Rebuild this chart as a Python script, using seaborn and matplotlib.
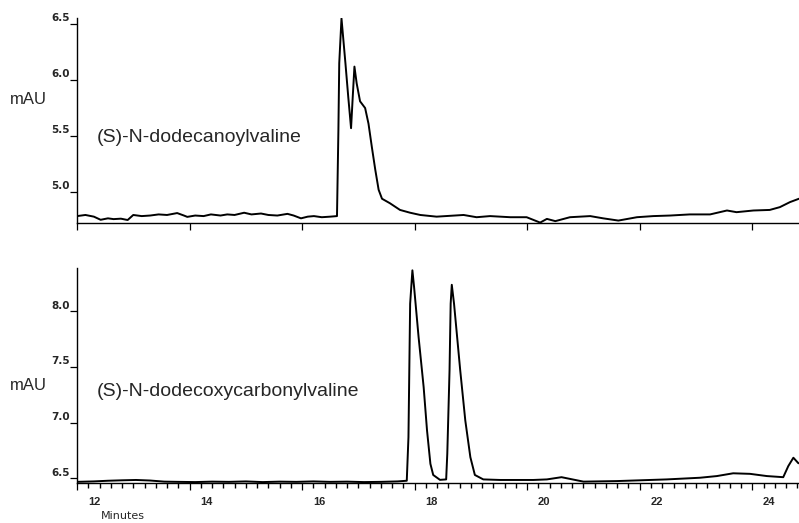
import matplotlib
matplotlib.use("Agg")
import matplotlib.pyplot as plt
import pandas as pd
import seaborn as sns
from matplotlib.transforms import ScaledTranslation
from matplotlib.ticker import MultipleLocator

# ---------------- data ----------------
top_time = [12.00, 12.15, 12.30, 12.42, 12.55, 12.65, 12.78, 12.90,
            13.00, 13.15, 13.30, 13.45, 13.60, 13.78, 13.90, 13.96,
            14.10, 14.25, 14.38, 14.55, 14.67, 14.80, 14.97,
            15.10, 15.27, 15.40, 15.56, 15.74, 15.85, 15.98,
            16.10, 16.21, 16.35, 16.50, 16.62,
            16.645, 16.66, 16.70, 16.77, 16.82, 16.87, 16.90, 16.93, 16.97, 17.03,
            17.12, 17.18, 17.24, 17.30, 17.36, 17.42, 17.56, 17.74, 17.92, 18.10,
            18.39, 18.87, 19.10, 19.34, 19.70, 19.99, 20.23, 20.35, 20.50, 20.76,
            21.12, 21.35, 21.62, 21.95, 22.24, 22.54, 22.89, 23.25, 23.55, 23.72,
            24.02, 24.31, 24.49, 24.67, 24.83]
top_mau = [4.785, 4.795, 4.780, 4.752, 4.765, 4.758, 4.762, 4.750,
           4.795, 4.785, 4.790, 4.800, 4.795, 4.812, 4.790, 4.778,
           4.790, 4.785, 4.800, 4.790, 4.800, 4.795, 4.815,
           4.800, 4.808, 4.795, 4.790, 4.805, 4.790, 4.765,
           4.780, 4.785, 4.775, 4.780, 4.785,
           5.55, 6.15, 6.55, 6.15, 5.85, 5.57, 5.85, 6.12, 5.97, 5.81,
           5.75, 5.61, 5.40, 5.20, 5.02, 4.94, 4.90, 4.84, 4.815, 4.795,
           4.780, 4.795, 4.775, 4.785, 4.775, 4.775, 4.727, 4.760, 4.740, 4.775,
           4.785, 4.765, 4.745, 4.775, 4.785, 4.790, 4.800, 4.800, 4.835, 4.820,
           4.835, 4.840, 4.865, 4.910, 4.940]

bottom_time = [12.00, 12.30, 12.55, 12.80, 13.05, 13.30, 13.55, 13.80, 14.10, 14.40,
               14.70, 15.00, 15.30, 15.60, 15.90, 16.20, 16.50, 16.80, 17.10, 17.40,
               17.70, 17.86,
               17.89, 17.92, 17.96, 17.99, 18.07, 18.16, 18.22, 18.28, 18.33, 18.45,
               18.56, 18.58, 18.62, 18.64, 18.66, 18.70, 18.81, 18.90, 18.99, 19.07,
               19.22,
               19.52, 20.11, 20.35, 20.61, 21.00, 21.59, 21.89, 22.48, 23.07, 23.37,
               23.66, 23.96, 24.26, 24.55, 24.64, 24.73, 24.82]
bottom_mau = [6.468, 6.472, 6.478, 6.482, 6.485, 6.480, 6.470, 6.468, 6.466, 6.470,
              6.468, 6.472, 6.466, 6.470, 6.468, 6.472, 6.468, 6.470, 6.466, 6.468,
              6.472, 6.478,
              6.87, 8.07, 8.37, 8.22, 7.77, 7.32, 6.93, 6.63, 6.53, 6.486,
              6.49, 6.72, 7.47, 8.07, 8.24, 8.07, 7.47, 7.02, 6.69, 6.53,
              6.49,
              6.485, 6.485, 6.490, 6.510, 6.470, 6.475, 6.480, 6.490, 6.505, 6.520,
              6.545, 6.540, 6.520, 6.510, 6.610, 6.685, 6.635]

top_label = "(S)-N-dodecanoylvaline"
bottom_label = "(S)-N-dodecoxycarbonylvaline"
y_unit = "mAU"
x_title = "Minutes"
x_ticks = [12, 14, 16, 18, 20, 22, 24]
top_y_ticks = [5.0, 5.5, 6.0, 6.5]
bottom_y_ticks = [6.5, 7.0, 7.5, 8.0]

# ---------------- style ----------------
sns.set_theme(style="ticks")
plt.rcParams['font.family'] = ['Liberation Sans', 'DejaVu Sans']
plt.rcParams['xtick.minor.visible'] = True

W, H = 799, 523
fig = plt.figure(figsize=(W / 100, H / 100), dpi=100)


def px_axes(left, top, right, bottom):
    return fig.add_axes([left / W, 1 - bottom / H, (right - left) / W, (bottom - top) / H])


ax1 = px_axes(77, 18, 799, 222.7)
ax2 = px_axes(77, 268, 799, 483.3)

df_top = pd.DataFrame({"t": top_time, "v": top_mau})
df_bot = pd.DataFrame({"t": bottom_time, "v": bottom_mau})

sns.lineplot(data=df_top, x="t", y="v", ax=ax1, color="black", linewidth=1.4, estimator=None)
sns.lineplot(data=df_bot, x="t", y="v", ax=ax2, color="black", linewidth=1.4, estimator=None)

ax1.set_xlim(12.0, 24.83)
ax2.set_xlim(12.0, 24.83)
ax1.set_ylim(4.726, 6.554)
ax2.set_ylim(6.455, 8.391)

for ax, yt in ((ax1, top_y_ticks), (ax2, bottom_y_ticks)):
    sns.despine(ax=ax)
    ax.set_xlabel("")
    ax.set_ylabel("")
    for s in ("left", "bottom"):
        ax.spines[s].set_color("black")
        ax.spines[s].set_linewidth(1.0)
    ax.set_yticks(yt)
    ax.set_yticks([], minor=True)
    ax.set_yticklabels([f"{v:.1f}" for v in yt])
    ax.tick_params(axis="y", direction="out", length=5, width=0.9, pad=0,
                   color="black", labelsize=7.5)
    for lab in ax.get_yticklabels():
        lab.set_fontfamily(['DejaVu Sans'])
        lab.set_fontweight('bold')
        lab.set_va('bottom')
        lab.set_transform(lab.get_transform() + ScaledTranslation(0, 0.5 / 72, fig.dpi_scale_trans))
    ax.set_xticks(x_ticks)
    ax.tick_params(axis="x", direction="out", length=5, width=0.9, color="black")

# top panel: no x labels, no minor ticks
ax1.set_xticklabels([])
ax1.set_xticks([], minor=True)

# bottom panel: labels shifted right, minor ticks every 0.2 min
ax2.set_xticklabels([str(v) for v in x_ticks])
ax2.xaxis.set_minor_locator(MultipleLocator(0.2))
ax2.tick_params(axis="x", which="major", labelsize=8, pad=5)
ax2.tick_params(axis="x", which="minor", bottom=True, direction="out", length=3.5,
                width=1.0, color="black")
for lab in ax2.get_xticklabels():
    lab.set_fontweight('bold')
    lab.set_transform(lab.get_transform() + ScaledTranslation(0.17, 0, fig.dpi_scale_trans))

# texts
fig.text(10 / W, 1 - 100 / H, y_unit, fontsize=12, ha="left", va="center")
fig.text(10 / W, 1 - 386 / H, y_unit, fontsize=12, ha="left", va="center")
fig.text(97 / W, 1 - 138 / H, top_label, fontsize=14, ha="left", va="center")
fig.text(97 / W, 1 - 391 / H, bottom_label, fontsize=14, ha="left", va="center")
fig.text(123 / W, 1 - 516 / H, x_title, fontsize=8, ha="center", va="center",
         family=['DejaVu Sans'])

fig.savefig("out.png", dpi=100, facecolor="white")
